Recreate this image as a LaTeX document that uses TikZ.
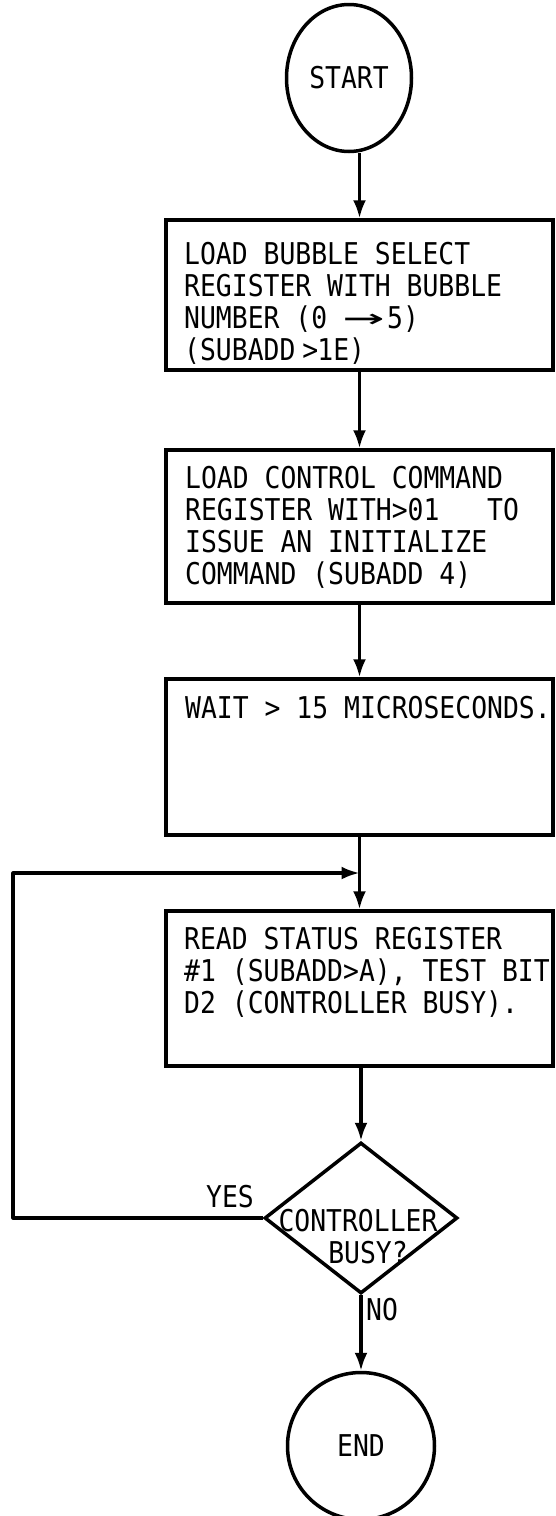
\documentclass[tikz,border=0pt]{standalone}
\usepackage{graphicx}
\usepackage{fontspec}
\setmainfont{DejaVu Sans Mono}[FakeStretch=0.88]
\usetikzlibrary{shapes.geometric,arrows.meta}
\newcommand\fs{\fontsize{30}{32}\selectfont}
\newcommand\arw{\makebox[44pt][l]{\scalebox{2.6}[1.1]{→}}}
\tikzset{
  ln/.style={line width=3.5pt},
  arr/.style={line width=3.2pt, -{Latex[length=18pt,width=13pt]}},
  box/.style={draw, ln, rectangle, minimum width=387pt, inner sep=0pt},
  txt/.style={anchor=north west, align=left, inner sep=0pt, font=\fs},
  lbl/.style={inner sep=0pt, font=\fs},
}
\begin{document}
\begin{tikzpicture}[x=1pt,y=-1pt]
\useasboundingbox (0,0) rectangle (556,1516);
\clip (0,0) rectangle (556,1516);
% terminals
\node[ellipse, draw, ln, minimum width=125pt, minimum height=147pt, inner sep=0pt, font=\fs] (start) at (349,78) {START};
\node[circle, draw, ln, minimum size=147pt, inner sep=0pt, font=\fs] (end) at (361,1446) {END};
% boxes
\node[box, minimum height=150pt] (b1) at (359.5,295) {};
\node[txt] (t1) at (184,242) {LOAD BUBBLE SELECT\\REGISTER WITH BUBBLE\\NUMBER (0 \arw5)\\(SUBADD\hspace{7pt}>\hspace{-1pt}1E)};
\node[box, minimum height=153pt] (b2) at (359.5,526.5) {};
\node[txt] (t2) at (185,466) {LOAD CONTROL COMMAND\\REGISTER WITH>01\ \ \ TO\\ISSUE AN INITIALIZE\\COMMAND (SUBADD 4)};
\node[box, minimum height=156pt] (b3) at (359.5,757) {};
\node[txt] (t3) at (185,696) {WAIT > 15 MICROSECONDS.};
\node[box, minimum height=155pt] (b4) at (359.5,988.5) {};
\node[txt] (t4) at (184,927) {READ STATUS REGISTER\\\#1 (SUBADD>A), TEST BIT\\D2 (CONTROLLER BUSY).};
% decision
\node[diamond, draw, ln, minimum width=193pt, minimum height=151pt, inner sep=0pt] (dia) at (361,1218) {};
\node[lbl, align=center] (dt) at (358,1237) {CONTROLLER\\\hspace*{20pt}BUSY?};
\node[lbl] (yes) at (230,1197) {YES};
\node[lbl] (no) at (382,1310) {NO};
% loop coordinates
\coordinate (J) at (359.5,873);
\coordinate (L) at (13,873);
% connectors
\draw[arr] (start.south -| b1.north) -- (b1.north);
\draw[arr] (b1) -- (b2);
\draw[arr] (b2) -- (b3);
\draw[arr] (b3) -- (b4);
\draw[arr] (b4.south -| dia.north) -- (dia.north);
\draw[arr] (dia.south) -- (end.north);
\draw[arr, line join=round] (dia.west) -- (dia.west -| L) -- (L) -- (J);
\end{tikzpicture}
\end{document}
